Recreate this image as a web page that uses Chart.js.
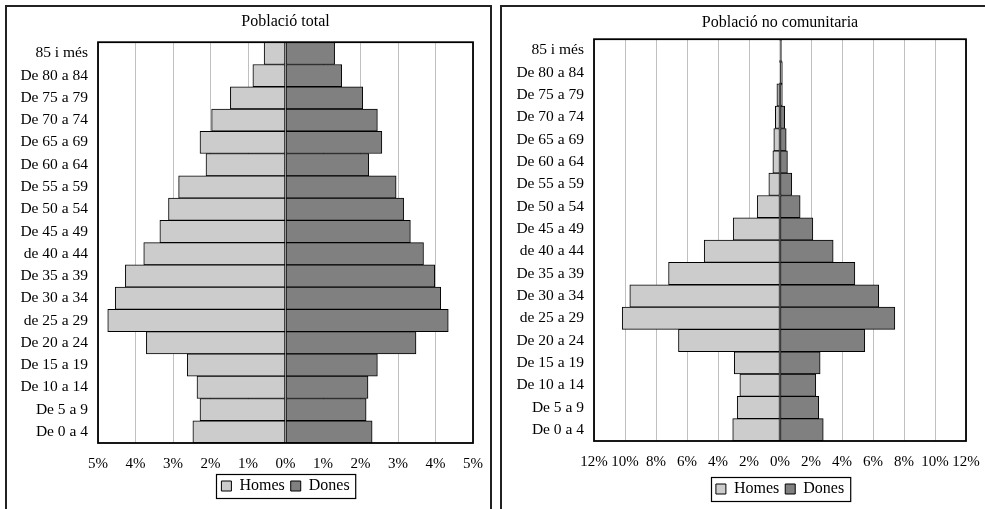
<!DOCTYPE html>
<html>
<head>
<meta charset="utf-8">
<script src="https://cdn.jsdelivr.net/npm/chart.js@4.4.1/dist/chart.umd.min.js"></script>
<style>
  html, body { margin: 0; padding: 0; background: #fff; }
  body { width: 985px; height: 509px; position: relative; overflow: hidden; }
  .box { position: absolute; border: 2px solid #222; box-sizing: border-box; }
  .box canvas { position: absolute; left: 0; top: 0; }
</style>
</head>
<body>
<div class="box" style="left:5px; top:5px; width:487px; height:520px;">
  <canvas id="total" width="483" height="502"></canvas>
</div>
<div class="box" style="left:500px; top:5px; width:500px; height:520px;">
  <canvas id="nocom" width="483" height="502"></canvas>
</div>
<script>
// age groups, top to bottom
const ageGroups = ["85 i més", "De 80 a 84", "De 75 a 79", "De 70 a 74", "De 65 a 69",
  "De 60 a 64", "De 55 a 59", "De 50 a 54", "De 45 a 49", "de 40 a 44", "De 35 a 39",
  "De 30 a 34", "de 25 a 29", "De 20 a 24", "De 15 a 19", "De 10 a 14", "De 5 a 9", "De 0 a 4"];

// Població total (% of population)
const totalHomes = [0.57, 0.87, 1.47, 1.97, 2.28, 2.12, 2.85, 3.12, 3.35, 3.78, 4.27,
  4.54, 4.74, 3.71, 2.62, 2.36, 2.28, 2.47];
const totalDones = [1.31, 1.50, 2.06, 2.45, 2.57, 2.22, 2.95, 3.15, 3.33, 3.68, 3.98,
  4.14, 4.34, 3.48, 2.45, 2.20, 2.15, 2.31];

// Població no comunitaria (% of population)
const ncHomes = [0.05, 0.05, 0.2, 0.3, 0.4, 0.46, 0.72, 1.47, 3.02, 4.89, 7.19,
  9.69, 10.18, 6.55, 2.95, 2.59, 2.76, 3.05];
const ncDones = [0.1, 0.15, 0.15, 0.3, 0.4, 0.48, 0.76, 1.30, 2.12, 3.43, 4.83,
  6.37, 7.41, 5.47, 2.59, 2.31, 2.50, 2.79];

// axis limits / steps
const totalTicks = { max: 5, step: 1 };
const ncTicks = { max: 12, step: 2 };

const serif = "'Liberation Serif', 'Times New Roman', serif";

const frame = {
  id: "frame",
  afterDatasetsDraw(chart) {
    const a = chart.chartArea, ctx = chart.ctx;
    ctx.save();
    ctx.strokeStyle = "#000";
    ctx.lineWidth = 1.8;
    ctx.strokeRect(a.left, a.top, a.right - a.left, a.bottom - a.top);
    ctx.restore();
  },
  afterDraw(chart) {
    const boxes = chart.legend.legendHitBoxes;
    if (!boxes || !boxes.length) return;
    let l = Infinity, r = -Infinity, t = Infinity, b = -Infinity;
    boxes.forEach(h => {
      l = Math.min(l, h.left); r = Math.max(r, h.left + h.width);
      t = Math.min(t, h.top); b = Math.max(b, h.top + h.height);
    });
    const ctx = chart.ctx;
    ctx.save();
    ctx.strokeStyle = "#000";
    ctx.lineWidth = 1.2;
    ctx.strokeRect(Math.round(l - 5) + 0.5, Math.round(t - 4) + 0.5, r - l + 11, b - t + 8);
    ctx.restore();
  }
};

function pyramid(id, title, homes, dones, ticks, lay) {
  new Chart(document.getElementById(id), {
    type: "bar",
    data: {
      labels: ageGroups,
      datasets: [
        { label: "Homes", data: homes.map(v => -v), backgroundColor: "#cccccc",
          borderColor: "#000", borderWidth: 1, borderSkipped: false },
        { label: "Dones", data: dones, backgroundColor: "#808080",
          borderColor: "#000", borderWidth: 1, borderSkipped: false }
      ]
    },
    options: {
      indexAxis: "y",
      responsive: false,
      animation: false,
      barPercentage: 1,
      categoryPercentage: 1,
      layout: { padding: { left: 0, right: lay.right, top: 0, bottom: lay.bottom } },
      scales: {
        x: {
          stacked: true,
          min: -ticks.max, max: ticks.max,
          grid: { color: "#c0c0c0", lineWidth: 1, drawTicks: false },
          border: { display: false },
          ticks: {
            stepSize: ticks.step, autoSkip: false, maxRotation: 0, padding: 12,
            color: "#000", font: { family: serif, size: 15 },
            callback: v => Math.abs(v) + "%"
          },
          afterFit: s => { s.height = lay.xh; s.paddingLeft = 0; s.paddingRight = 0; }
        },
        y: {
          stacked: true,
          grid: { display: false, drawTicks: false },
          border: { display: false },
          ticks: { padding: 10, color: "#000", font: { family: serif, size: 15.5 } },
          afterFit: s => { s.width = lay.yw; }
        }
      },
      plugins: {
        title: {
          display: true, text: title, fullSize: false, color: "#000",
          font: { family: serif, size: 16, weight: "normal" },
          padding: { top: lay.tt, bottom: lay.tb }
        },
        legend: {
          position: "bottom", fullSize: false,
          labels: { boxWidth: 10, boxHeight: 10, padding: 6, color: "#000",
            font: { family: serif, size: 16 } }
        },
        tooltip: { enabled: false }
      }
    },
    plugins: [frame]
  });
}

pyramid("total", "Població total", totalHomes, totalDones, totalTicks,
  { right: 17, bottom: 5, xh: 29, yw: 91, tt: 5, tb: 11 });
pyramid("nocom", "Població no comunitaria", ncHomes, ncDones, ncTicks,
  { right: 19, bottom: 2, xh: 34, yw: 92, tt: 6, tb: 7 });
</script>
</body>
</html>
